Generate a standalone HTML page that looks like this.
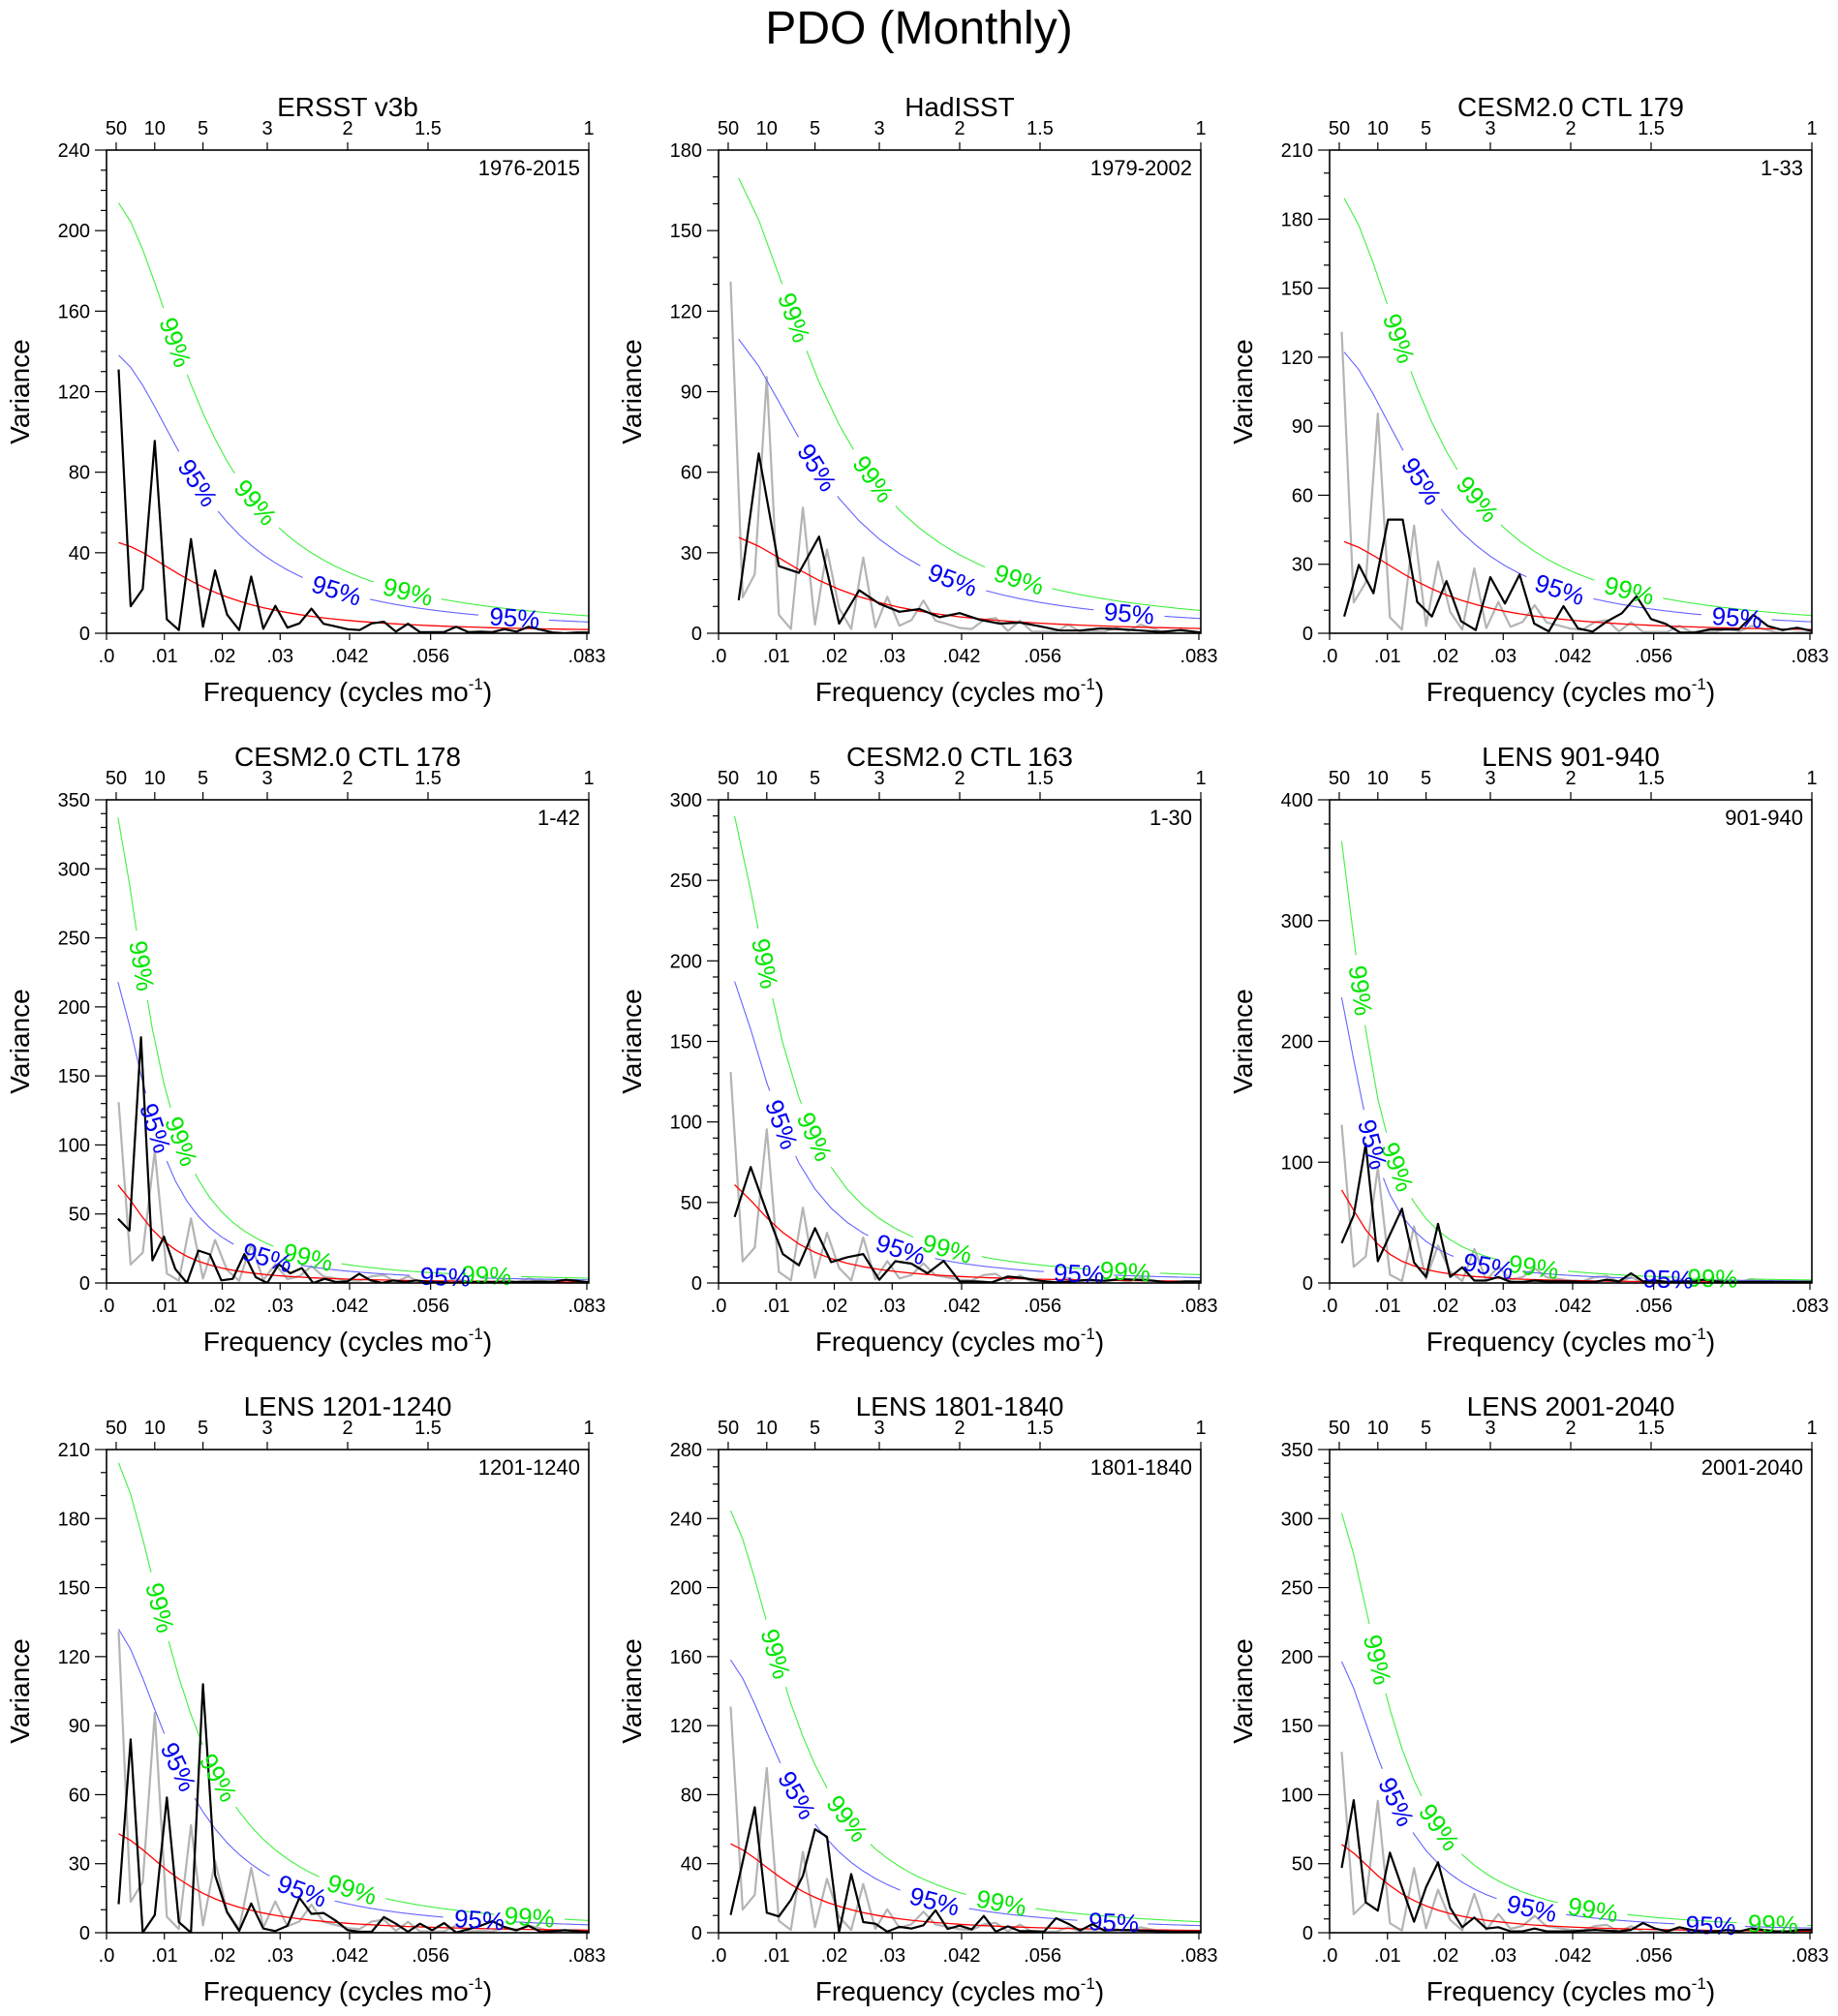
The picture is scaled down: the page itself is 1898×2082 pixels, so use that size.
<!DOCTYPE html>
<html><head><meta charset="utf-8"><title>PDO (Monthly)</title>
<style>
html,body{margin:0;padding:0;background:#fff;}
svg{display:block;font-family:"Liberation Sans",Arial,sans-serif;}
</style></head>
<body>
<svg id="fig" xmlns="http://www.w3.org/2000/svg" width="1898" height="2082" viewBox="0 0 1898 2082">
<rect x="0" y="0" width="1898" height="2082" fill="#fff"/>
<text x="949" y="45" text-anchor="middle" font-size="48" fill="#000">PDO (Monthly)</text>
</svg>
<script>
// ---- data ----
const panelTitles = ["ERSST v3b","HadISST","CESM2.0 CTL 179","CESM2.0 CTL 178","CESM2.0 CTL 163","LENS 901-940","LENS 1201-1240","LENS 1801-1840","LENS 2001-2040"];
const periodLabels = ["1976-2015","1979-2002","1-33","1-42","1-30","901-940","1201-1240","1801-1840","2001-2040"];
const recordYears = [40,24,33,42,30,40,40,40,40];
const yMaxes = [240,180,210,350,300,400,210,280,350];
const yMajorSteps = [40,30,30,50,50,100,30,40,50];
const yMinorSteps = [10,10,10,10,10,20,10,10,10];
const redStart = [45,35.7,39.8,71,61,77,43,51.5,64];
const ar1Coef = [0.90,0.89,0.90,0.95,0.935,0.96,0.92,0.92,0.935];
const sig95Factor = 3.07;
const sig99Factor = 4.75;
const xTickValues = [0,0.01,0.02,0.03,0.042,0.056,0.083];
const xTickLabels = [".0",".01",".02",".03",".042",".056",".083"];
const topPeriods = [50,10,5,3,2,1.5,1];
const topPeriodLabels = ["50","10","5","3","2","1.5","1"];

const spectrumErsst = [131,13.4,22,95.5,6.9,1.6,46.8,3.2,31.2,9.3,1.6,28.2,2.2,13.6,2.8,4.9,12.2,4.7,3.4,2,1.6,4.9,5.7,0.8,4.7,0.6,0.6,0.6,3.2,0.6,0.8,0.6,2,0.8,3.2,1.8,0.4,0,0.4,0.4];
const spectrumHad = [12.3,67,25,22.5,36,3.6,16,11,8,9,6,7.5,5,3.6,4,2.6,1,1,1.8,1.5,1,0.5,1.2,0.3];
const spectrumCtl179 = [7.3,29.7,17.4,49.4,49.4,13.6,7.3,22.7,5.2,1.4,24.4,12.9,25.5,4.2,0.8,11.8,2.1,0.7,5.2,8.7,16.1,6.2,4.1,0.3,0.3,1.7,1.7,1.7,8,3.1,1.4,2.4,1];
const spectrumCtl178 = [46.5,38,178,16.4,33.6,10,0,23.5,20.7,1.9,3,21,4.2,0,13.6,7,10.8,0,3,0.7,1.2,6.6,1.9,0,1.9,0.7,1.9,0.7,0.7,0,0.7,0.7,0.7,0.7,0.7,0.7,1,1,1,2.3,1.5,0.5];
const spectrumCtl163 = [41,72,44,18,11,34,13,16,18,2,13.5,12,6,13.7,1,1,0.4,4,3,1.4,0.4,1,2,1.4,2.4,2,1.4,0.4,1,1];
const spectrumLens901 = [33,56,115,18,40,61.5,17,5,49,5,13,2,2,5,1,1,2,1.3,1.3,1.3,1,1,2.7,1.3,8,1.3,2,1,1.3,1.3,2.7,1.3,1,1,1,1,1,1,1,1];
const spectrumLens1201 = [12.4,84,0,7.7,58.8,4.6,0,108,25,8.9,0.8,12.7,1.8,0.7,3,15.2,8.2,8.6,5.3,1.1,0.4,0.4,6.8,3.9,0.4,3.9,1.1,4.2,0.1,1.5,3,5,2.5,1.1,3,0.4,0.7,1.1,0.7,0.3];
const spectrumLens1801 = [10.3,41,72.7,11.6,9.4,19,33,60,55.6,0.4,34,6.2,5.2,0.6,3.4,2.4,4.3,13,2.2,4.1,1.9,9.7,0.6,3.7,0.9,0.9,0.6,8.4,5.2,1.3,5,1.3,1.5,1.5,1.2,1,0.8,0.7,0.6,0.5];
const spectrumLens2001 = [47,96,22,16,58,33,8,33,51,18,4,11,3,4,1,1,3,1,1,1,1.5,2,1.5,1,2,7,3,1,4,2,1,1,2,1,3,2,1,1,2,2];
const panelSpectra = [spectrumErsst,spectrumHad,spectrumCtl179,spectrumCtl178,spectrumCtl163,spectrumLens901,spectrumLens1201,spectrumLens1801,spectrumLens2001];

// ---- layout ----
const NS = "http://www.w3.org/2000/svg";
const svg = document.getElementById('fig');
const colX = [110,742,1373], rowY = [155,826,1497];
const PW = 498, PH = 499, XMAX = 1/12;

function mk(tag, attrs, parent){
  const e = document.createElementNS(NS, tag);
  for (const k in attrs) e.setAttribute(k, attrs[k]);
  (parent||svg).appendChild(e);
  return e;
}

function buildPanel(i){
  const L = colX[i%3], T = rowY[Math.floor(i/3)], R = L+PW, B = T+PH;
  const g = mk('g', {});
  
  
  const ymax = yMaxes[i];
  const xs = f => L + f/XMAX*PW;
  const ys = v => B - v/ymax*PH;
  const N = recordYears[i];
  const freqs = panelSpectra[i].map((_,k)=>(k+1)/(12*N));

  const cid = 'clip'+i;
  const cp = mk('clipPath', {id:cid}, g);
  mk('rect', {x:L, y:T, width:PW, height:PH}, cp);
  const pg = mk('g', {'clip-path':'url(#'+cid+')'}, g);

  if (i > 0) {
    const pts = spectrumErsst.map((v,k)=>xs((k+1)/480).toFixed(1)+','+ys(v).toFixed(1)).join(' ');
    const gl = mk('polyline', {points:pts, fill:'none', stroke:'#b4b4b4', 'stroke-width':2.2, 'stroke-linejoin':'round'}, pg);
    
    
  }

  const r = ar1Coef[i];
  const D = f => 1 - 2*r*Math.cos(2*Math.PI*f) + r*r;
  const red = freqs.map(f => redStart[i]*D(freqs[0])/D(f));
  const curves = [
    {vals: red.map(v=>v*sig99Factor), color:'#40f040', tcolor:'#00e600', label:'99%', name:'sig99'},
    {vals: red.map(v=>v*sig95Factor), color:'#6464ff', tcolor:'#0000f0', label:'95%', name:'sig95'}
  ];
  curves.forEach(c => {
    const P = freqs.map((f,k)=>[xs(f), ys(c.vals[k])]);
    const dense = [[P[0][0],P[0][1],0]];
    let s = 0;
    for (let k=1;k<P.length;k++){
      const dx = P[k][0]-P[k-1][0], dy = P[k][1]-P[k-1][1];
      const len = Math.hypot(dx,dy), n = Math.max(1, Math.ceil(len));
      for (let j=1;j<=n;j++){
        dense.push([P[k-1][0]+dx*j/n, P[k-1][1]+dy*j/n, s+len*j/n]);
      }
      s += len;
    }
    const total = s;
    const labels = [];
    for (let t=155; t+24 < total; t+=186) labels.push(t);
    const gap = 36;
    const inGap = sv => labels.some(t => Math.abs(sv-t) < gap);
    let d = '', pen = false;
    dense.forEach(p => {
      if (inGap(p[2])) { pen = false; return; }
      d += (pen?'L':'M') + p[0].toFixed(1) + ' ' + p[1].toFixed(1);
      pen = true;
    });
    const cl = mk('path', {d:d, fill:'none', stroke:c.color, 'stroke-width':1.1}, pg);
    
    
    labels.forEach(t => {
      let idx = dense.findIndex(p=>p[2]>=t); if (idx<1) idx=1;
      const p = dense[idx];
      const a = dense[Math.max(0,idx-6)], b = dense[Math.min(dense.length-1, idx+6)];
      const ang = Math.atan2(b[1]-a[1], b[0]-a[0])*180/Math.PI;
      const tx = mk('text', {x:0, y:0, 'font-size':26, fill:c.tcolor, 'text-anchor':'middle', 'dominant-baseline':'central',
        transform:'translate('+p[0].toFixed(1)+','+p[1].toFixed(1)+') rotate('+ang.toFixed(1)+')'}, g);
      tx.textContent = c.label;
      
      
    });
  });
  const rl = mk('polyline', {points: freqs.map((f,k)=>xs(f).toFixed(1)+','+ys(red[k]).toFixed(1)).join(' '), fill:'none', stroke:'#ff0000', 'stroke-width':1.3}, pg);
  
  

  const bl = mk('polyline', {points: panelSpectra[i].map((v,k)=>xs(freqs[k]).toFixed(1)+','+ys(v).toFixed(1)).join(' '), fill:'none', stroke:'#000', 'stroke-width':2.2, 'stroke-linejoin':'round'}, pg);
  
  

  const fr = mk('rect', {x:L, y:T, width:PW, height:PH, fill:'none', stroke:'#000', 'stroke-width':1.6}, g);
  
  

  for (let v=0; v<=ymax+1e-6; v+=yMinorSteps[i]) {
    const major = Math.abs(v/yMajorSteps[i] - Math.round(v/yMajorSteps[i])) < 1e-6;
    mk('line', {x1:L-(major?12:6), x2:L, y1:ys(v), y2:ys(v), stroke:'#000', 'stroke-width':1.2}, g);
    if (major) {
      const tl = mk('text', {x:L-17, y:ys(v)+7, 'font-size':20, 'text-anchor':'end', fill:'#000'}, g);
      tl.textContent = String(v);
      
      
    }
  }
  xTickValues.forEach((f,k) => {
    const x = xs(Math.min(f, XMAX));
    mk('line', {x1:x, x2:x, y1:B, y2:B+7, stroke:'#000', 'stroke-width':1.2}, g);
    const tl = mk('text', {x:x, y:B+30, 'font-size':20, 'text-anchor':'middle', fill:'#000'}, g);
    tl.textContent = xTickLabels[k];
    
    
  });
  topPeriods.forEach((p,k) => {
    const x = xs(1/(12*p));
    mk('line', {x1:x, x2:x, y1:T-8, y2:T, stroke:'#000', 'stroke-width':1.2}, g);
    const tl = mk('text', {x:x, y:T-16, 'font-size':20, 'text-anchor':'middle', fill:'#000'}, g);
    tl.textContent = topPeriodLabels[k];
    
    
  });
  const tt = mk('text', {x:L+PW/2, y:T-35, 'font-size':28, 'text-anchor':'middle', fill:'#000'}, g);
  tt.textContent = panelTitles[i];
  
  
  const pl = mk('text', {x:R-9, y:T+26, 'font-size':22, 'text-anchor':'end', fill:'#000'}, g);
  pl.textContent = periodLabels[i];
  
  
  const yt = mk('text', {x:0, y:0, 'font-size':28, 'text-anchor':'middle', fill:'#000', transform:'translate('+(L-80)+','+(T+PH/2)+') rotate(-90)'}, g);
  yt.textContent = 'Variance';
  
  
  const xt = mk('text', {x:L+PW/2, y:B+70, 'font-size':28, 'text-anchor':'middle', fill:'#000'}, g);
  
  
  xt.appendChild(document.createTextNode('Frequency (cycles mo'));
  const sup = mk('tspan', {'font-size':17, dy:-12}, xt);
  sup.textContent = '-1';
  const cl2 = mk('tspan', {dy:12}, xt);
  cl2.textContent = ')';
}
for (let i=0;i<9;i++) buildPanel(i);
</script>
</body></html>
